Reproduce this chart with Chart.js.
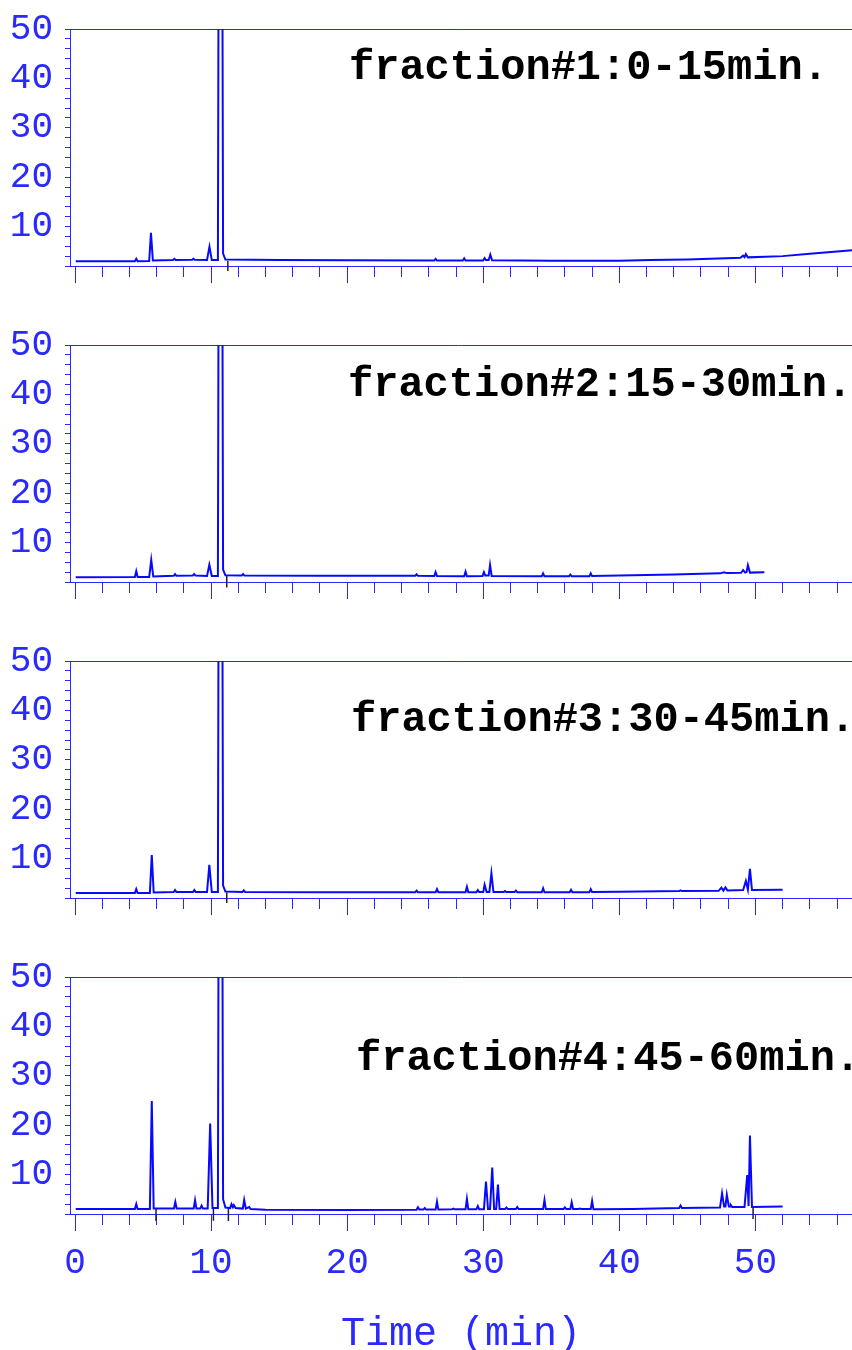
<!DOCTYPE html>
<html>
<head>
<meta charset="utf-8">
<title>Fractions 1-4</title>
<script src="https://cdn.jsdelivr.net/npm/chart.js@4.4.1/dist/chart.umd.min.js"></script>
<style>
  html, body { margin: 0; padding: 0; background: #fff; overflow: hidden; }
  #page { position: relative; width: 852px; height: 1350px; }
  canvas { position: absolute; left: 0; }
  .label { position: absolute; font: bold 42px "Liberation Mono", monospace; color: #000; white-space: nowrap; line-height: 42px; }
</style>
</head>
<body>
<div id="page">
  <canvas id="c1" width="852" height="316" style="top:0px"></canvas>
  <canvas id="c2" width="852" height="316" style="top:316px"></canvas>
  <canvas id="c3" width="852" height="316" style="top:632px"></canvas>
  <canvas id="c4" width="852" height="410" style="top:948px"></canvas>
  <div class="label" style="left:349px;top:47px">fraction#1:0-15min.</div>
  <div class="label" style="left:348px;top:364px">fraction#2:15-30min.</div>
  <div class="label" style="left:351px;top:699px">fraction#3:30-45min.</div>
  <div class="label" style="left:356px;top:1038px">fraction#4:45-60min.</div>
</div>
<script>
// axis ticks
const majorTicks = [0, 10, 20, 30, 40, 50];
const minorTicks = [0, 2, 4, 6, 8, 10, 12, 14, 16, 18, 20, 22, 24, 26, 28, 30, 32, 34, 36, 38, 40, 42, 44, 46, 48, 50, 52, 54, 56];
const yTicks = [2, 4, 6, 8, 10, 12, 14, 16, 18, 20, 22, 24, 26, 28, 30, 32, 34, 36, 38, 40, 42, 44, 46, 48, 50];

// fraction #1 (0-15 min)
const f1Time = [0.05, 4.4, 4.5, 4.6, 5.45, 5.58, 5.72, 7.2, 7.3, 7.4, 8.6, 8.7, 8.8, 9.7, 9.88, 10.05,
  10.5, 10.62, 10.75, 10.88, 11.05, 15, 20, 26.4, 26.5, 26.6, 28.5, 28.6, 28.7, 30.0, 30.1, 30.2, 30.4, 30.52, 30.65,
  35, 40, 42.3, 45, 48.4, 48.9, 49.1, 49.2, 49.3, 49.45, 52, 54, 56, 57.5];
const f1Signal = [2.95, 2.95, 3.45, 2.95, 3.0, 8.7, 3.1, 3.2, 3.45, 3.2, 3.25, 3.45, 3.25, 3.2, 5.9, 3.2,
  3.2, 150, 150, 4.5, 3.3, 3.2, 3.15, 3.1, 3.45, 3.1, 3.1, 3.55, 3.1, 3.1, 3.6, 3.2, 3.2, 4.3, 3.15,
  3.05, 3.05, 3.2, 3.3, 3.6, 3.65, 4.1, 3.8, 4.4, 3.75, 4.0, 4.5, 4.95, 5.3];

// fraction #2 (15-30 min)
const f2Time = [0.05, 4.4, 4.5, 4.6, 5.45, 5.6, 5.75, 7.25, 7.35, 7.45, 8.65, 8.75, 8.85, 9.7, 9.87, 10.05,
  10.5, 10.62, 10.75, 10.88, 11.05, 12.25, 12.35, 12.45, 18, 25.0, 25.1, 25.2, 26.4, 26.5, 26.6, 28.6, 28.7, 28.8,
  29.95, 30.05, 30.15, 30.4, 30.5, 30.62, 34.3, 34.4, 34.5, 36.3, 36.4, 36.5, 37.8, 37.9, 38.0, 44, 47.4, 47.7, 47.9,
  48.95, 49.1, 49.25, 49.35, 49.45, 49.6, 50.66];
const f2Signal = [2.95, 3.0, 4.2, 3.0, 3.0, 6.5, 3.1, 3.25, 3.6, 3.25, 3.3, 3.6, 3.3, 3.2, 5.5, 3.2,
  3.2, 150, 150, 4.5, 3.35, 3.3, 3.6, 3.3, 3.25, 3.25, 3.55, 3.25, 3.2, 4.0, 3.2, 3.15, 4.1, 3.15,
  3.2, 4.0, 3.3, 3.3, 5.45, 3.2, 3.15, 3.75, 3.15, 3.15, 3.5, 3.15, 3.15, 3.75, 3.2, 3.5, 3.75, 3.95, 3.8,
  3.85, 4.4, 3.9, 4.0, 5.4, 3.9, 3.95];

// fraction #3 (30-45 min)
const f3Time = [0.05, 4.4, 4.5, 4.6, 5.5, 5.64, 5.78, 7.25, 7.35, 7.45, 8.67, 8.77, 8.87, 9.7, 9.87, 10.05,
  10.5, 10.62, 10.75, 10.88, 11.05, 12.3, 12.4, 12.5, 18, 25.0, 25.1, 25.2, 26.5, 26.6, 26.7, 28.7, 28.8, 28.9,
  29.5, 29.6, 29.7, 30.0, 30.1, 30.25, 30.45, 30.6, 30.75, 31.5, 31.6, 31.7, 32.3, 32.4, 32.5, 34.3, 34.4, 34.5,
  36.35, 36.45, 36.55, 37.8, 37.9, 38.0, 40, 44.4, 44.5, 44.6, 47.3, 47.5, 47.65, 47.8, 47.95,
  49.1, 49.3, 49.45, 49.6, 49.75, 52.0];
const f3Signal = [3.0, 3.0, 3.8, 3.0, 3.0, 10.7, 3.1, 3.2, 3.6, 3.2, 3.2, 3.6, 3.2, 3.2, 8.7, 3.2,
  3.2, 150, 150, 4.5, 3.3, 3.2, 3.55, 3.2, 3.15, 3.15, 3.5, 3.15, 3.15, 3.8, 3.15, 3.15, 4.25, 3.15,
  3.15, 3.6, 3.2, 3.2, 4.7, 3.2, 3.2, 7.0, 3.2, 3.2, 3.4, 3.2, 3.2, 3.5, 3.15, 3.15, 3.95, 3.15,
  3.15, 3.65, 3.15, 3.15, 3.8, 3.2, 3.25, 3.4, 3.55, 3.4, 3.45, 4.1, 3.5, 4.15, 3.5,
  3.6, 5.45, 3.7, 7.9, 3.6, 3.65];

// fraction #4 (45-60 min)
const f4Time = [0.05, 4.4, 4.5, 4.6, 5.5, 5.64, 5.78, 7.27, 7.37, 7.47, 8.72, 8.82, 8.92, 9.2, 9.3, 9.4,
  9.75, 9.93, 10.1, 10.5, 10.62, 10.75, 10.88, 11.05, 11.4, 11.5, 11.6, 11.67, 11.8, 12.33, 12.43, 12.55, 12.8, 12.9,
  14, 20, 25.1, 25.2, 25.3, 25.6, 25.7, 25.8, 26.5, 26.6, 26.7, 27.7, 27.8, 27.9, 28.7, 28.8, 28.9,
  29.5, 29.6, 29.7, 30.05, 30.2, 30.35, 30.5, 30.66, 30.8, 30.95, 31.08, 31.2, 31.6, 31.7, 31.8, 32.4, 32.5, 32.6,
  34.4, 34.5, 34.6, 35.9, 36.0, 36.1, 36.4, 36.5, 36.6, 37.0, 37.1, 37.2, 37.9, 38.0, 38.1, 41, 44.4, 44.5, 44.6,
  47.4, 47.55, 47.7, 47.8, 47.9, 48.05, 48.15, 48.2, 48.3, 49.2, 49.4, 49.5, 49.6, 49.75, 52.0];
const f4Signal = [3.0, 3.0, 4.0, 3.0, 3.0, 24.9, 3.1, 3.1, 4.45, 3.1, 3.1, 4.8, 3.1, 3.1, 3.7, 3.1,
  3.1, 20.3, 3.2, 3.2, 150, 150, 5.0, 3.3, 3.2, 4.0, 3.4, 3.8, 3.2, 3.1, 4.85, 3.1, 3.4, 3.0,
  2.85, 2.8, 2.85, 3.35, 2.9, 2.9, 3.2, 2.9, 2.9, 4.5, 2.9, 2.95, 3.1, 2.95, 2.95, 5.05, 2.95,
  2.95, 3.6, 2.95, 2.95, 8.56, 3.0, 3.0, 11.4, 3.0, 3.0, 7.96, 3.0, 3.0, 3.3, 3.0, 3.0, 3.4, 3.0,
  3.0, 4.84, 3.0, 3.0, 3.35, 3.0, 3.0, 4.37, 3.0, 3.0, 3.1, 3.0, 3.0, 4.64, 2.95, 3.0, 3.2, 3.7, 3.2,
  3.3, 6.2, 3.5, 3.5, 5.9, 3.5, 3.5, 3.8, 3.4, 3.4, 9.9, 3.6, 17.9, 3.4, 3.5];

// black peak markers
const f1MarkTime = [11.23];
const f1MarkTop = [3.0];
const f1MarkBottom = [1.0];
const f2MarkTime = [11.15];
const f2MarkTop = [3.2];
const f2MarkBottom = [0.9];
const f3MarkTime = [11.15];
const f3MarkTop = [3.1];
const f3MarkBottom = [1.0];
const f4MarkTime = [5.95, 10.17, 11.27, 49.83];
const f4MarkTop = [3.0, 3.0, 3.0, 3.4];
const f4MarkBottom = [0.6, 0.65, 0.6, 1.0];

const xMin = -0.37, xMax = 57.1;
const blue = '#2a2aff';
const lineBlue = '#0808ff';

function noPad(s) {
  s.paddingTop = 0; s.paddingBottom = 0; s.paddingLeft = 0; s.paddingRight = 0;
}

function makePanel(id, time, signal, markTime, markTop, markBottom, last) {
  const marks = [];
  markTime.forEach((t, i) => {
    marks.push({x: t, y: markTop[i]}, {x: t, y: markBottom[i]}, {x: t, y: null});
  });
  new Chart(document.getElementById(id), {
    type: 'line',
    data: {
      datasets: [{
        data: time.map((t, i) => ({x: t, y: signal[i]})),
        borderColor: lineBlue,
        borderWidth: 2,
        pointRadius: 0,
        tension: 0
      }, {
        data: marks,
        borderColor: '#222',
        borderWidth: 1.5,
        pointRadius: 0,
        spanGaps: false,
        clip: false
      }]
    },
    options: {
      responsive: false,
      animation: false,
      events: [],
      layout: {padding: {top: 29, left: 0, right: 0, bottom: last ? 4 : 50}},
      plugins: {legend: {display: false}, tooltip: {enabled: false}},
      scales: {
        x: {
          type: 'linear', position: 'bottom', min: xMin, max: xMax, weight: 1,
          afterBuildTicks: s => { s.ticks = majorTicks.map(v => ({value: v})); },
          afterFit: s => { s.height = last ? 140 : 0; noPad(s); },
          grid: {display: true, drawOnChartArea: false, drawTicks: true, tickLength: 17, color: blue, lineWidth: 1},
          border: {display: true, color: blue, width: 1},
          ticks: {
            display: last, autoSkip: false, maxRotation: 0, padding: 11, color: blue,
            font: {family: 'Liberation Mono', size: 36},
            callback: v => String(v)
          },
          title: {
            display: last, text: 'Time (min)', color: blue, padding: 0,
            font: {family: 'Liberation Mono', size: 40, lineHeight: 1}
          }
        },
        xMinor: {
          type: 'linear', position: 'bottom', min: xMin, max: xMax, weight: 0,
          afterBuildTicks: s => { s.ticks = minorTicks.map(v => ({value: v})); },
          afterFit: s => { s.height = 0; noPad(s); },
          grid: {display: true, drawOnChartArea: false, drawTicks: true, tickLength: 11, color: blue, lineWidth: 1},
          border: {display: false},
          ticks: {display: false, autoSkip: false}
        },
        xTop: {
          type: 'linear', position: 'top', min: xMin, max: xMax,
          afterFit: s => { s.height = 0; noPad(s); },
          grid: {display: false},
          border: {display: true, color: blue, width: 1},
          ticks: {display: false}
        },
        y: {
          type: 'linear', position: 'left', min: 2, max: 50,
          afterBuildTicks: s => { s.ticks = yTicks.map(v => ({value: v})); },
          afterFit: s => { s.width = 70; noPad(s); },
          grid: {display: true, drawOnChartArea: false, drawTicks: true, tickLength: 5, color: blue, lineWidth: 1},
          border: {display: true, color: blue, width: 1},
          ticks: {
            autoSkip: false, padding: 12, color: blue,
            font: {family: 'Liberation Mono', size: 36},
            callback: v => (v % 10 === 0 ? String(v) : '')
          }
        }
      }
    }
  });
}

makePanel('c1', f1Time, f1Signal, f1MarkTime, f1MarkTop, f1MarkBottom, false);
makePanel('c2', f2Time, f2Signal, f2MarkTime, f2MarkTop, f2MarkBottom, false);
makePanel('c3', f3Time, f3Signal, f3MarkTime, f3MarkTop, f3MarkBottom, false);
makePanel('c4', f4Time, f4Signal, f4MarkTime, f4MarkTop, f4MarkBottom, true);
</script>
</body>
</html>
